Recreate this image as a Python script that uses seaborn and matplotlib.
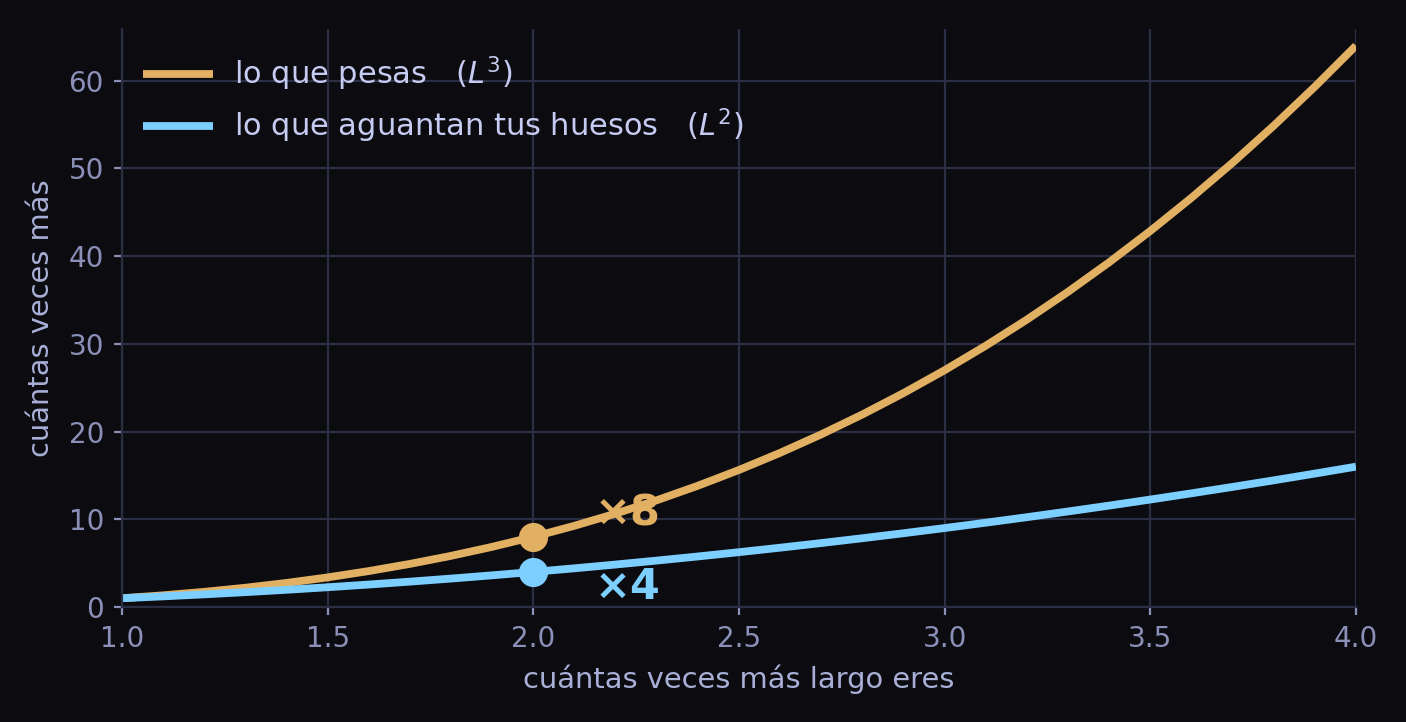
import matplotlib
matplotlib.use("Agg")
import matplotlib.pyplot as plt
import seaborn as sns
import pandas as pd

# data
largo = [1.0, 1.1, 1.2, 1.3, 1.4, 1.5, 1.6, 1.7, 1.8, 1.9, 2.0, 2.1, 2.2, 2.3, 2.4, 2.5,
         2.6, 2.7, 2.8, 2.9, 3.0, 3.1, 3.2, 3.3, 3.4, 3.5, 3.6, 3.7, 3.8, 3.9, 4.0]
peso = [1.0, 1.331, 1.728, 2.197, 2.744, 3.375, 4.096, 4.913, 5.832, 6.859, 8.0, 9.261,
        10.648, 12.167, 13.824, 15.625, 17.576, 19.683, 21.952, 24.389, 27.0, 29.791,
        32.768, 35.937, 39.304, 42.875, 46.656, 50.653, 54.872, 59.319, 64.0]
huesos = [1.0, 1.21, 1.44, 1.69, 1.96, 2.25, 2.56, 2.89, 3.24, 3.61, 4.0, 4.41, 4.84,
          5.29, 5.76, 6.25, 6.76, 7.29, 7.84, 8.41, 9.0, 9.61, 10.24, 10.89, 11.56,
          12.25, 12.96, 13.69, 14.44, 15.21, 16.0]
serie_labels = ["lo que pesas   $(L^3)$", "lo que aguantan tus huesos   $(L^2)$"]
marca_x = [2.0, 2.0]
marca_y = [8.0, 4.0]
marca_txt = ["×8", "×4"]

BG = "#0b0b10"
ORANGE = "#e2b062"
BLUE = "#7ccfff"
GRID = "#2c2f44"
TICK = "#8a90b8"
LABEL = "#a9b0d8"
LEGTXT = "#c6cbf2"

sns.set_theme(style="dark")
plt.rcParams["font.family"] = ["DejaVu Sans"]

fig = plt.figure(figsize=(7.03, 3.61), dpi=200, facecolor=BG)
ax = fig.add_axes([0.0868, 0.1593, 0.9644 - 0.0868, 0.9598 - 0.1593])
ax.set_facecolor(BG)

sns.lineplot(x=largo, y=peso, color=ORANGE, lw=2.8, label=serie_labels[0], ax=ax,
             solid_capstyle="butt")
sns.lineplot(x=largo, y=huesos, color=BLUE, lw=2.8, label=serie_labels[1], ax=ax,
             solid_capstyle="butt")

ax.plot([marca_x[0]], [marca_y[0]], "o", color=ORANGE, ms=9.5, zorder=5)
ax.plot([marca_x[1]], [marca_y[1]], "o", color=BLUE, ms=9.5, zorder=5)
ax.text(2.148, 10.7, marca_txt[0], color=ORANGE, fontsize=15.5, fontweight="bold",
        ha="left", va="center")
ax.text(2.148, 2.3, marca_txt[1], color=BLUE, fontsize=15.5, fontweight="bold",
        ha="left", va="center")

ax.set_xlim(1.0, 4.0)
ax.set_ylim(0, 65.9)
ax.set_xticks([1.0, 1.5, 2.0, 2.5, 3.0, 3.5, 4.0])
ax.set_yticks([0, 10, 20, 30, 40, 50, 60])

ax.grid(True, color=GRID, lw=0.8)
ax.set_axisbelow(True)
for s in ["top", "right"]:
    ax.spines[s].set_visible(False)
for s in ["left", "bottom"]:
    ax.spines[s].set_color(GRID)
    ax.spines[s].set_linewidth(0.8)

ax.tick_params(axis="both", colors=TICK, labelcolor=TICK, labelsize=10,
               length=3, width=0.8, bottom=True, left=True)

ax.set_xlabel("cuántas veces más largo eres", color=LABEL, fontsize=10.4, labelpad=4)
ax.set_ylabel("cuántas veces más", color=LABEL, fontsize=10.4, labelpad=5)

leg = ax.legend(loc="upper left", bbox_to_anchor=(0.0067, 0.977), frameon=False,
                fontsize=11, handlelength=2.3, labelspacing=0.45, borderaxespad=0,
                borderpad=0.4, handletextpad=0.7)
for t in leg.get_texts():
    t.set_color(LEGTXT)
for h in leg.get_lines():
    h.set_solid_capstyle("butt")

fig.savefig("out.png", dpi=200, facecolor=BG)
